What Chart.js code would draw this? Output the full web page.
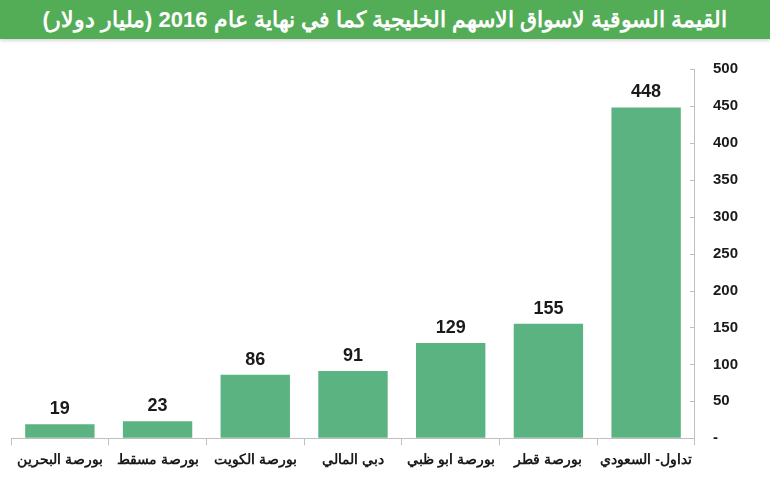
<!DOCTYPE html>
<html lang="ar">
<head>
<meta charset="utf-8">
<script src="https://cdn.jsdelivr.net/npm/chart.js@4.4.1/dist/chart.umd.min.js"></script>
<style>
  html, body { margin:0; padding:0; background:#fff; }
  #wrap { width:770px; height:490px; position:relative; overflow:hidden; }
  #title {
    position:absolute; left:0; top:0; width:770px; height:39px;
    background:#53ad57; color:#fff; direction:rtl; text-align:center;
    font:bold 22px "Liberation Sans", Arial, sans-serif; line-height:39px;
    box-shadow:0 2px 3px rgba(0,0,0,0.15);
  }
  #box { position:absolute; left:0; top:42px; width:770px; height:448px; }
</style>
</head>
<body>
<div id="wrap">
  <div id="title">القيمة السوقية لاسواق الاسهم الخليجية كما في نهاية عام 2016 (مليار دولار)</div>
  <div id="box"><canvas id="chart"></canvas></div>
</div>
<script>
// data
const markets = ['بورصة البحرين', 'بورصة مسقط', 'بورصة الكويت', 'دبي المالي', 'بورصة ابو ظبي', 'بورصة قطر', 'تداول- السعودي'];
const marketCap = [19, 23, 86, 91, 129, 155, 448];
const yTicks = [0, 50, 100, 150, 200, 250, 300, 350, 400, 450, 500];

const FONT = '"Liberation Sans", Arial, sans-serif';

// value labels above bars + inward y tick marks
const extras = {
  id: 'extras',
  afterDatasetsDraw(chart) {
    const ctx = chart.ctx;
    const meta = chart.getDatasetMeta(0);
    ctx.save();
    ctx.font = 'bold 18px ' + FONT;
    ctx.fillStyle = '#1a1a1a';
    ctx.textAlign = 'center';
    ctx.textBaseline = 'bottom';
    meta.data.forEach((bar, i) => {
      ctx.fillText(String(marketCap[i]), bar.x, bar.y - 6);
    });
    // y tick marks on inner side of axis
    const y = chart.scales.y;
    const right = chart.chartArea.right;
    ctx.strokeStyle = '#bfbfbf';
    ctx.lineWidth = 1;
    yTicks.forEach(v => {
      const py = Math.round(y.getPixelForValue(v)) + 0.5;
      ctx.beginPath();
      ctx.moveTo(right - 5, py);
      ctx.lineTo(right, py);
      ctx.stroke();
    });
    ctx.restore();
  }
};

new Chart(document.getElementById('chart'), {
  type: 'bar',
  data: {
    labels: markets,
    datasets: [{
      data: marketCap,
      backgroundColor: '#5bb381',
      barPercentage: 0.71,
      categoryPercentage: 1
    }]
  },
  options: {
    responsive: true,
    maintainAspectRatio: false,
    animation: false,
    layout: { padding: { top: 25, left: 11, right: 14, bottom: 14 } },
    plugins: { legend: { display: false }, tooltip: { enabled: false } },
    scales: {
      x: {
        afterFit: s => { s.paddingLeft = 0; s.paddingRight = 0; },
        grid: { display: true, drawOnChartArea: false, offset: true, tickLength: 7, color: '#bfbfbf' },
        border: { color: '#bfbfbf' },
        ticks: { color: '#1a1a1a', font: { family: FONT, size: 14, weight: 'bold' }, padding: 7, maxRotation: 0, autoSkip: false }
      },
      y: {
        position: 'right',
        min: 0,
        max: 500,
        afterBuildTicks: axis => { axis.ticks = yTicks.map(v => ({ value: v })); },
        grid: { drawOnChartArea: false, drawTicks: false },
        border: { color: '#bfbfbf' },
        ticks: {
          color: '#1a1a1a',
          padding: 18,
          font: { family: FONT, size: 15, weight: 'bold' },
          callback: v => (v === 0 ? '-' : v)
        }
      }
    }
  },
  plugins: [extras]
});
</script>
</body>
</html>
